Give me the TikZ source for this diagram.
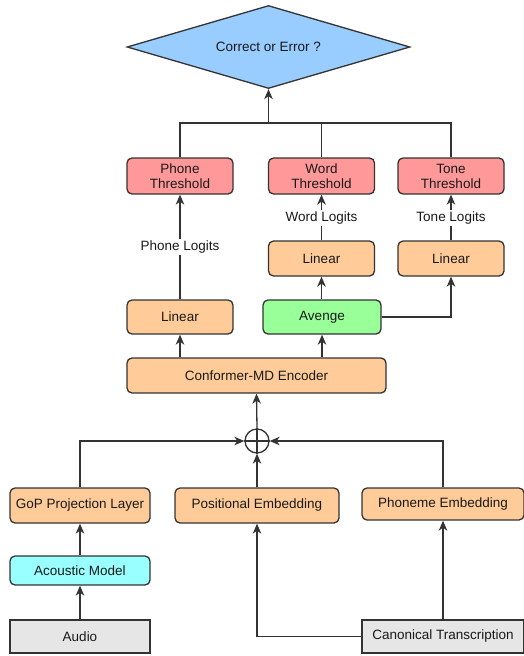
\documentclass[tikz,border=0pt]{standalone}
\usepackage{fontspec}
\setmainfont{Liberation Sans}
\usetikzlibrary{shapes.geometric,arrows.meta}
\definecolor{edge}{HTML}{333333}
\definecolor{orangefill}{HTML}{FFCC99}
\definecolor{redfill}{HTML}{FF9999}
\definecolor{greenfill}{HTML}{99FF99}
\definecolor{cyanfill}{HTML}{99FFFF}
\definecolor{bluefill}{HTML}{99CCFF}
\definecolor{grayfill}{HTML}{E6E6E6}
\tikzset{
  box/.style={draw=edge, line width=1.3pt, rounded corners=5pt, align=center,
    inner sep=0pt, font=\fontsize{13.5}{15}\selectfont, text=black!90},
  orangebox/.style={box, fill=orangefill},
  redbox/.style={box, fill=redfill},
  greenbox/.style={box, fill=greenfill},
  cyanbox/.style={box, fill=cyanfill},
  graybox/.style={box, fill=grayfill, rounded corners=0pt},
  wire/.style={draw=edge, line width=1.3pt},
  arr/.style={wire, -{Stealth[length=10pt,width=8.5pt,inset=3pt]}},
  tag/.style={fill=white, inner sep=1.5pt, font=\fontsize{13.5}{15}\selectfont, text=black!90},
}
\begin{document}
\begin{tikzpicture}[x=1pt,y=-1pt]
\useasboundingbox (0,0) rectangle (524,656);

% decision
\node[diamond, draw=edge, line width=1.3pt, fill=bluefill, aspect=3.4, inner sep=0pt,
  minimum width=283pt, minimum height=83pt, font=\fontsize{13.5}{15}\selectfont, text=black!90]
  (dec) at (268.5,47) {Correct or Error ?};

% thresholds
\node[redbox, minimum width=106pt, minimum height=36pt] (pth) at (180,176) {Phone\\Threshold};
\node[redbox, minimum width=106pt, minimum height=36pt] (wth) at (321.5,176) {Word\\Threshold};
\node[redbox, minimum width=106pt, minimum height=36pt] (tth) at (451,176) {Tone\\Threshold};

% linear heads
\node[orangebox, minimum width=106pt, minimum height=35pt] (wlin) at (321.5,258.5) {Linear};
\node[orangebox, minimum width=106pt, minimum height=35pt] (tlin) at (451,258.5) {Linear};
\node[orangebox, minimum width=106pt, minimum height=34pt] (plin) at (180,317) {Linear};
\node[greenbox, minimum width=118pt, minimum height=34pt] (avg) at (322,317) {Avenge};

% encoder
\node[orangebox, minimum width=259pt, minimum height=35pt] (enc) at (256.5,375.5) {Conformer-MD Encoder};

% summation
\node[circle, draw=edge, line width=1.3pt, minimum size=24pt, inner sep=0pt] (sum) at (257,441) {};
\draw[wire] (sum.north) -- (sum.south) (sum.west) -- (sum.east);

% inputs
\node[orangebox, minimum width=140pt, minimum height=35pt] (gop) at (80,505.5) {GoP Projection Layer};
\node[orangebox, minimum width=164pt, minimum height=35pt] (pos) at (257,505.5) {Positional Embedding};
\node[orangebox, minimum width=162pt, minimum height=32pt] (phe) at (443,504) {Phoneme Embedding};
\node[cyanbox, minimum width=140pt, minimum height=29pt] (am) at (80,570.5) {Acoustic Model};
\node[graybox, minimum width=140pt, minimum height=33pt] (aud) at (80,636.5) {Audio};
\node[graybox, minimum width=162pt, minimum height=33pt] (can) at (443,636.5) {Canonical Transcription};

% bottom-up flow
\draw[arr] (aud) -- (am);
\draw[arr] (am) -- (gop);
\draw[arr] (can.west) -| (pos.south);
\draw[arr] (can.north -| phe) -- (phe.south);
\draw[arr] (gop.north) |- (sum.west);
\draw[arr] (phe.north) |- (sum.east);
\draw[arr] (pos.north) -- (sum.south);
\draw[arr] (sum.north) -- (enc.south);
\draw[arr] (enc.north -| plin) -- (plin.south);
\draw[arr] (enc.north -| avg) -- (avg.south);
\draw[arr] (avg.north -| wlin) -- (wlin.south);
\draw[arr] (avg.east) -| (tlin.south);

% logits
\draw[arr] (plin.north) -- (pth.south);
\draw[arr] (wlin.north) -- (wth.south);
\draw[arr] (tlin.north) -- (tth.south);
\node[tag] (plog) at (180,247) {Phone Logits};
\node[tag] (wlog) at (321.5,218) {Word Logits};
\node[tag] (tlog) at (451,218) {Tone Logits};

% merge into decision
\coordinate (join) at (268.5,123);
\draw[wire] (pth.north) |- (join);
\draw[wire] (tth.north) |- (join);
\draw[wire] (wth.north) -- (wth.north |- join);
\draw[arr] (join) -- (dec.south);
\end{tikzpicture}
\end{document}
